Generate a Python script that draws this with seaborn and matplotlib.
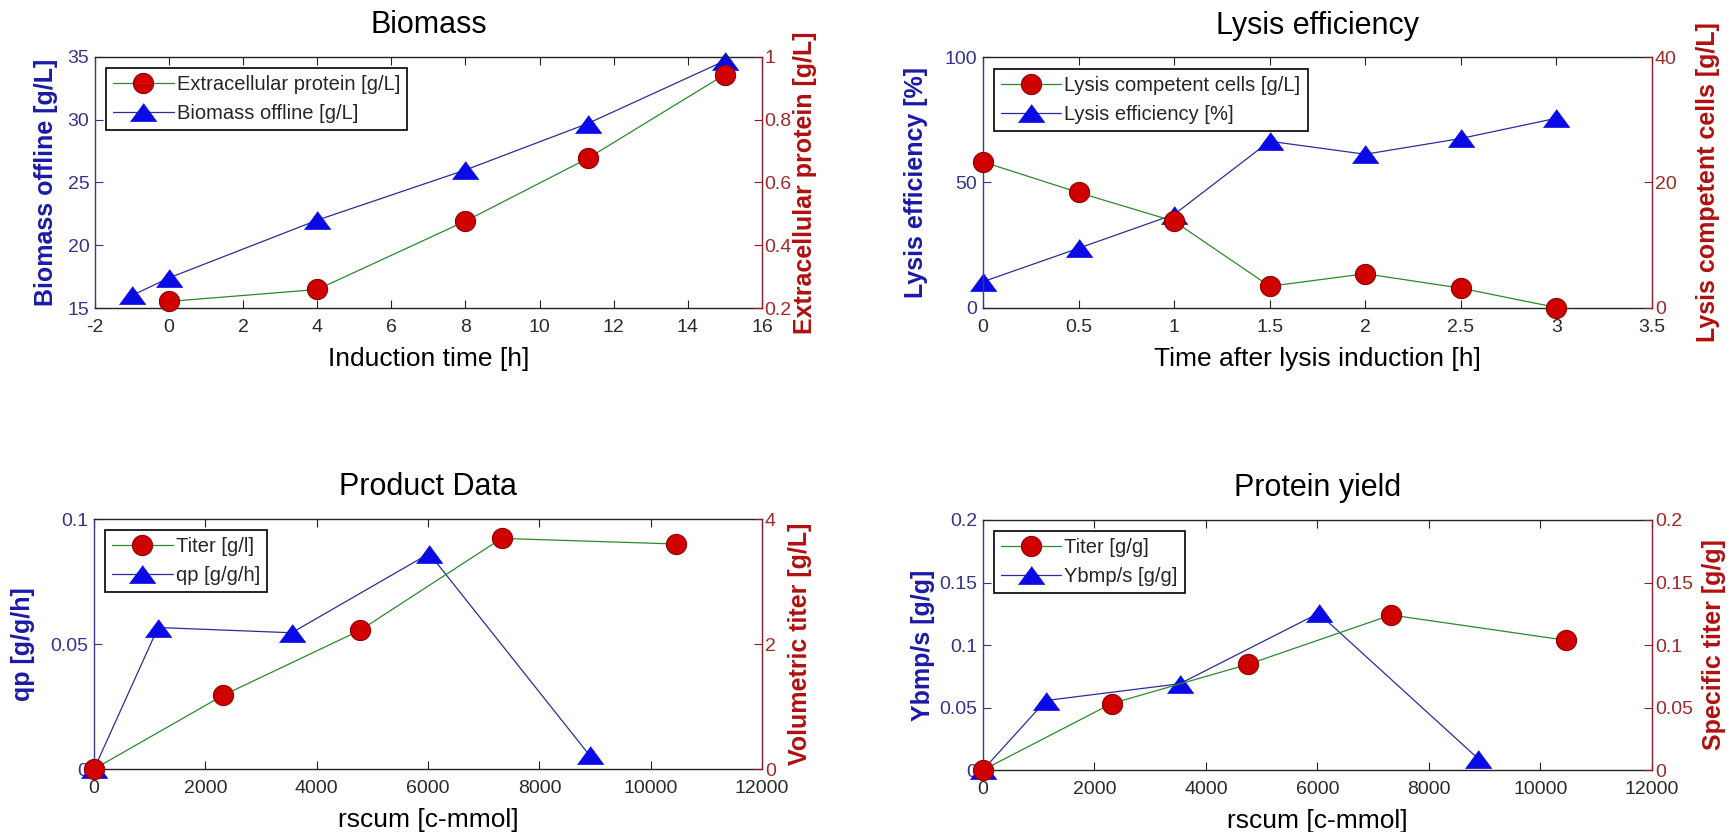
import matplotlib
matplotlib.use("Agg")
import matplotlib.pyplot as plt
import seaborn as sns
import numpy as np

# ---------------- data ----------------
# Biomass panel
biomass_time = [-1, 0, 4, 8, 11.3, 15]
biomass_offline = [16.0, 17.4, 22.0, 26.0, 29.7, 34.7]
protein_time = [0, 4, 8, 11.3, 15]
extracellular_protein = [0.221, 0.259, 0.477, 0.677, 0.944]

# Lysis efficiency panel
lysis_time = [0, 0.5, 1, 1.5, 2, 2.5, 3]
lysis_efficiency = [10.3, 23.7, 37.2, 66.5, 61.3, 67.6, 75.7]
lysis_competent = [23.3, 18.4, 13.8, 3.4, 5.4, 3.1, 0.0]

# Product data panel
qp_rscum = [0, 1150, 3550, 6020, 8900]
qp_values = [0.0, 0.0566, 0.0545, 0.0862, 0.0055]
titer_rscum = [0, 2320, 4780, 7320, 10450]
vol_titer = [0.0, 1.18, 2.22, 3.69, 3.60]

# Protein yield panel
yb_rscum = [0, 1130, 3530, 6020, 8880]
ybmps_values = [0.0, 0.0556, 0.0690, 0.1254, 0.0092]
spec_rscum = [0, 2310, 4760, 7320, 10460]
spec_titer = [0.0, 0.0532, 0.0846, 0.1240, 0.1038]

# ticks / labels
tl_xticks = [-2, 0, 2, 4, 6, 8, 10, 12, 14, 16]
tl_lticks = [15, 20, 25, 30, 35]
tl_rticks = [0.2, 0.4, 0.6, 0.8, 1.0]
tl_rticklabels = ["0.2", "0.4", "0.6", "0.8", "1"]
tr_xticks = [0, 0.5, 1, 1.5, 2, 2.5, 3, 3.5]
tr_xticklabels = ["0", "0.5", "1", "1.5", "2", "2.5", "3", "3.5"]
tr_lticks = [0, 50, 100]
tr_rticks = [0, 20, 40]
b_xticks = [0, 2000, 4000, 6000, 8000, 10000, 12000]
bl_lticks = [0, 0.05, 0.1]
bl_lticklabels = ["0", "0.05", "0.1"]
bl_rticks = [0, 2, 4]
br_ticks = [0, 0.05, 0.1, 0.15, 0.2]
br_ticklabels = ["0", "0.05", "0.1", "0.15", "0.2"]

# ---------------- style ----------------
sns.set_theme(style="white")
plt.rcParams["font.family"] = ["Liberation Sans", "DejaVu Sans"]

GREEN = "#2a8a2a"
NAVY_LINE = "#2c2c96"
TRI = "#0a0ae6"
RED_FACE = "#d10000"
RED_EDGE = "#8c0000"
LCOL = "#1a1aa6"
LTICK = "#34348c"
RCOL = "#b01010"
RTICK = "#a02828"
RSPINE = "#8c1c2c"

TRI_MARKER = [(-1.0, -0.68), (1.0, -0.68), (0.0, 0.68)]

fig = plt.figure(figsize=(17.36, 8.32), dpi=100)
fig.patch.set_facecolor("white")


def panel(rect, title, x1, y1, x2, y2, lab1, lab2, xlabel, ylabel_l, ylabel_r,
          xlim, xticks, xticklabels, l_lim, l_ticks, l_ticklabels,
          r_lim, r_ticks, r_ticklabels, lpad_l=6, lpad_r=6):
    ax = fig.add_axes(rect)
    ax2 = ax.twinx()
    # left series: triangles
    sns.lineplot(x=x1, y=y1, ax=ax, color=NAVY_LINE, linewidth=0.9,
                 marker=TRI_MARKER, markersize=19, markerfacecolor=TRI,
                 markeredgecolor=TRI, markeredgewidth=0.5, label=lab1,
                 sort=False, estimator=None, errorbar=None, legend=False,
                 clip_on=False)
    # right series: circles
    sns.lineplot(x=x2, y=y2, ax=ax2, color=GREEN, linewidth=0.9,
                 marker="o", markersize=14.5, markerfacecolor=RED_FACE,
                 markeredgecolor=RED_EDGE, markeredgewidth=0.8, label=lab2,
                 sort=False, estimator=None, errorbar=None, legend=False,
                 clip_on=False)
    ax.set_xlim(xlim)
    ax.set_ylim(l_lim)
    ax2.set_ylim(r_lim)
    ax.set_xticks(xticks)
    ax.set_xticklabels(xticklabels)
    ax.set_yticks(l_ticks)
    ax.set_yticklabels(l_ticklabels)
    ax2.set_yticks(r_ticks)
    ax2.set_yticklabels(r_ticklabels)

    ax.set_title(title, fontsize=22, pad=17, color="black")
    ax.set_xlabel(xlabel, fontsize=19, color="black", labelpad=8)
    ax.set_ylabel(ylabel_l, fontsize=18, fontweight="bold", color=LCOL,
                  labelpad=lpad_l)
    ax2.set_ylabel(ylabel_r, fontsize=18, fontweight="bold", color=RCOL,
                   labelpad=lpad_r)

    ax.tick_params(axis="x", direction="in", length=6, width=0.8,
                   top=True, bottom=True, colors="#222222", labelsize=14,
                   pad=8, labelcolor="#2a2a2a")
    ax.tick_params(axis="y", direction="in", length=6, width=0.8,
                   left=True, right=False, colors=LTICK, labelsize=14,
                   pad=4, labelcolor=LTICK)
    ax2.tick_params(axis="y", direction="in", length=6, width=0.8,
                    right=True, left=False, colors=RSPINE, labelsize=14,
                    pad=2, labelcolor=RTICK)

    for a in (ax, ax2):
        for s in a.spines.values():
            s.set_linewidth(1.0)
    ax.spines["top"].set_color("#222222")
    ax.spines["bottom"].set_color("#222222")
    ax.spines["left"].set_color("#3a3a8a")
    ax.spines["right"].set_visible(False)
    ax2.spines["left"].set_visible(False)
    ax2.spines["top"].set_visible(False)
    ax2.spines["bottom"].set_visible(False)
    ax2.spines["right"].set_color(RSPINE)
    ax.grid(False)
    ax2.grid(False)

    h1, l1 = ax.get_legend_handles_labels()
    h2, l2 = ax2.get_legend_handles_labels()
    leg = ax2.legend(h2 + h1, l2 + l1, loc="upper left", fontsize=14.5,
                     frameon=True, fancybox=False, framealpha=1,
                     edgecolor="black", handlelength=3.0, borderpad=0.35,
                     labelspacing=0.5, handletextpad=0.15,
                     borderaxespad=0.55, numpoints=1)
    leg.get_frame().set_linewidth(1.2)
    return ax, ax2


panel([0.0547, 0.6298, 0.3842, 0.3017], "Biomass",
      biomass_time, biomass_offline, protein_time, extracellular_protein,
      "Biomass offline [g/L]", "Extracellular protein [g/L]",
      "Induction time [h]", "Biomass offline [g/L]",
      "Extracellular protein [g/L]",
      (-2, 16), tl_xticks, [str(t) for t in tl_xticks],
      (15, 35), tl_lticks, [str(t) for t in tl_lticks],
      (0.2, 1.0), tl_rticks, tl_rticklabels, lpad_l=7, lpad_r=1)

panel([0.5662, 0.6304, 0.3854, 0.3005], "Lysis efficiency",
      lysis_time, lysis_efficiency, lysis_time, lysis_competent,
      "Lysis efficiency [%]", "Lysis competent cells [g/L]",
      "Time after lysis induction [h]", "Lysis efficiency [%]",
      "Lysis competent cells [g/L]",
      (0, 3.5), tr_xticks, tr_xticklabels,
      (0, 100), tr_lticks, [str(t) for t in tr_lticks],
      (0, 40), tr_rticks, [str(t) for t in tr_rticks], lpad_l=12, lpad_r=14)

panel([0.0542, 0.0757, 0.3848, 0.3005], "Product Data",
      qp_rscum, qp_values, titer_rscum, vol_titer,
      "qp [g/g/h]", "Titer [g/l]",
      "rscum [c-mmol]", "qp [g/g/h]", "Volumetric titer [g/L]",
      (0, 12000), b_xticks, [str(t) for t in b_xticks],
      (0, 0.1), bl_lticks, bl_lticklabels,
      (0, 4), bl_rticks, [str(t) for t in bl_rticks], lpad_l=11, lpad_r=9)

panel([0.5662, 0.0745, 0.3854, 0.3005], "Protein yield",
      yb_rscum, ybmps_values, spec_rscum, spec_titer,
      "Ybmp/s [g/g]", "Titer [g/g]",
      "rscum [c-mmol]", "Ybmp/s [g/g]", "Specific titer [g/g]",
      (0, 12000), b_xticks, [str(t) for t in b_xticks],
      (0, 0.2), br_ticks, br_ticklabels,
      (0, 0.2), br_ticks, br_ticklabels, lpad_l=3, lpad_r=7)

fig.savefig("out.png", dpi=100, facecolor="white")
